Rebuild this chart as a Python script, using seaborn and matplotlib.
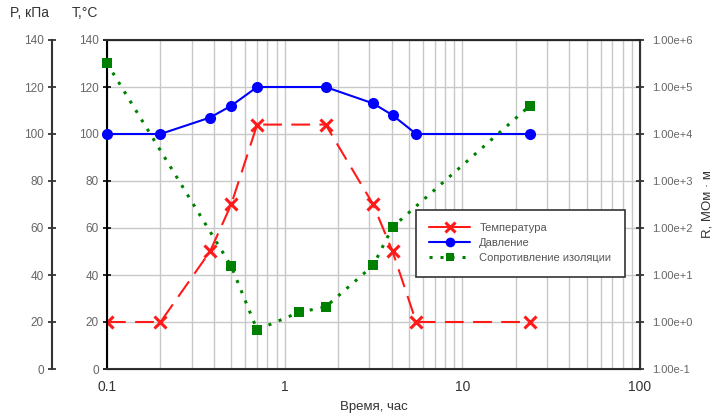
import numpy as np
import pandas as pd
import matplotlib
matplotlib.use("Agg")
import matplotlib.pyplot as plt
import seaborn as sns
from matplotlib.ticker import FixedLocator, FuncFormatter, LogLocator, NullFormatter
from matplotlib.lines import Line2D

sns.set_style("white")
plt.rcParams['font.family'] = ['Liberation Sans', 'DejaVu Sans']

# data
time_h = [0.1, 0.2, 0.38, 0.5, 0.7, 1.7, 3.15, 4.05, 5.5, 24]
temperature = [20, 20, 50, 70, 104, 104, 70, 50, 20, 20]
pressure = [100, 100, 107, 112, 120, 120, 113, 108, 100, 100]
res_time = [0.1, 0.5, 0.7, 1.2, 1.7, 3.15, 4.05, 24]
resistance = [3.2e5, 15.5, 0.68, 1.6, 2.1, 16, 105, 4e4]
x_ticks = [0.1, 1, 10, 100]
x_ticklabels = ["0.1", "1", "10", "100"]
lin_ticks = [0, 20, 40, 60, 80, 100, 120, 140]
r_ticks = [1e-1, 1e0, 1e1, 1e2, 1e3, 1e4, 1e5, 1e6]

df_t = pd.DataFrame({"t": time_h, "T": temperature, "P": pressure})
df_r = pd.DataFrame({"t": res_time, "R": resistance})

fig = plt.figure(figsize=(7.21, 4.19), dpi=100)
ax = fig.add_axes([107/721, 1-369/419, (640-107)/721, (369-40)/419])
ax_p = ax.twinx()
ax_r = ax.twinx()

gray = "#666666"
red = "#ff1a1a"
blue = "#0000ff"
green = "#008000"
for a in (ax, ax_p, ax_r):
    a.set_xscale("log")
    a.set_xlim(0.1, 100)

# grid
ax.set_ylim(0, 140)
ax.yaxis.set_major_locator(FixedLocator(lin_ticks))
ax.xaxis.set_major_locator(FixedLocator(x_ticks))
ax.xaxis.set_minor_locator(LogLocator(base=10, subs=np.arange(2, 10)))
ax.xaxis.set_minor_formatter(NullFormatter())
ax.set_xticklabels(x_ticklabels)
ax.grid(True, which="both", axis="x", color="#c8c8c8", lw=1)
ax.grid(True, which="major", axis="y", color="#c8c8c8", lw=1)
ax.set_axisbelow(True)

# series
sns.lineplot(data=df_t, x="t", y="T", ax=ax, color=red, lw=1.5, legend=False)
ln = ax.lines[-1]
ln.set_dashes([9, 4.5])
ln.set_marker("x")
ln.set_markersize(8)
ln.set_markeredgewidth(2.2)
ln.set_markeredgecolor(red)
ln.set_markerfacecolor(red)

ax_p.set_ylim(0, 140)
sns.lineplot(data=df_t, x="t", y="P", ax=ax_p, color=blue, lw=1.5,
             marker="o", markersize=8, markeredgewidth=0, legend=False)

ax_r.set_yscale("log")
ax_r.set_ylim(1e-1, 1e6)
sns.lineplot(data=df_r, x="t", y="R", ax=ax_r, color=green, lw=2.2,
             marker="s", markersize=7, markeredgewidth=0, legend=False)
ax_r.lines[-1].set_linestyle((0, (1, 2.6)))
for l in ax_r.lines + ax_p.lines:
    l.set_clip_on(False)

# T axis (inner left)
ax.tick_params(axis="y", which="major", direction="inout", length=6, width=1.2,
               labelsize=8.5, labelcolor=gray, color="black", pad=3)
ax.tick_params(axis="x", which="major", direction="inout", length=6, width=1.2,
               labelsize=10, labelcolor="#333333", pad=5)
ax.tick_params(axis="x", which="minor", length=0)
ax.set_xlabel("Время, час", fontsize=9.5, color="#333333", labelpad=5)
ax.set_ylabel("")
ax.spines["left"].set_color("black")
ax.spines["left"].set_linewidth(1.5)
ax.spines["bottom"].set_color("#333333")
ax.spines["bottom"].set_linewidth(1.5)
ax.spines["top"].set_color("#333333")
ax.spines["top"].set_linewidth(1.5)

# P axis (outer left)
ax_p.yaxis.set_label_position("left")
ax_p.yaxis.tick_left()
ax_p.spines["left"].set_position(("outward", 55 * 0.72))
ax_p.spines["left"].set_visible(True)
ax_p.spines["left"].set_color("#333333")
ax_p.spines["left"].set_linewidth(1.5)
ax_p.spines["right"].set_visible(False)
ax_p.spines["top"].set_visible(False)
ax_p.spines["bottom"].set_visible(False)
ax_p.yaxis.set_major_locator(FixedLocator(lin_ticks))
ax_p.tick_params(axis="y", direction="inout", length=6, width=1.2,
                 labelsize=8.5, labelcolor=gray, pad=3)
ax_p.set_ylabel("")

# R axis (right)
ax_r.yaxis.set_major_locator(FixedLocator(r_ticks))
ax_r.yaxis.set_minor_locator(FixedLocator([]))
ax_r.yaxis.set_major_formatter(FuncFormatter(lambda v, p: f"1.00e{int(round(np.log10(v))):+d}"))
ax_r.tick_params(axis="y", direction="inout", length=6, width=1.2,
                 labelsize=8, labelcolor=gray, pad=6)
ax_r.spines["right"].set_color("#333333")
ax_r.spines["right"].set_linewidth(1.5)
ax_r.spines["left"].set_visible(False)
ax_r.set_ylabel("R, МОм · м", fontsize=9.5, color="#333333", labelpad=6)

for a in (ax_p, ax_r):
    a.set_xlabel("")
    a.tick_params(axis="x", which="both", bottom=False, labelbottom=False)

fig.text(10/721, 1-13/419, "P, кПа", fontsize=10, color="#333333", va="center")
fig.text(72/721, 1-13/419, "T,°C", fontsize=10, color="#333333", va="center")

# legend
handles = [
    Line2D([], [], color=red, lw=1.5, marker="x", markersize=7, markeredgewidth=2.2),
    Line2D([], [], color=blue, lw=1.5, marker="o", markersize=7, markeredgewidth=0),
    Line2D([], [], color=green, lw=2.2, ls=(0, (1, 2.6)), marker="s", markersize=6, markeredgewidth=0),
]
labels = ["Температура", "Давление", "Сопротивление изоляции"]
leg = ax_r.legend(handles, labels, loc="upper left",
                  bbox_to_anchor=((416-107)/533, (369-210)/329),
                  fontsize=8, frameon=True, fancybox=False, edgecolor="#333333",
                  handlelength=3.7, labelspacing=0.45, borderpad=1.2,
                  handletextpad=0.8, borderaxespad=0, framealpha=1)
leg.get_frame().set_linewidth(1.2)
for t in leg.get_texts():
    t.set_color("#555555")

fig.savefig("out.png", dpi=100)
